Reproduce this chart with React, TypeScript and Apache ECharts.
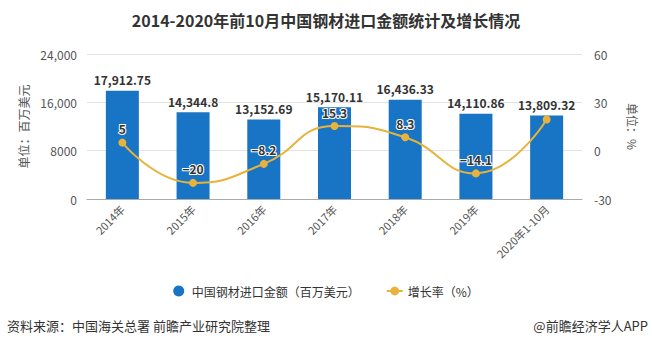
import React, { useEffect, useRef } from "react";
import * as echarts from "echarts";

const categories = ["2014年", "2015年", "2016年", "2017年", "2018年", "2019年", "2020年1-10月"];
const amountValues = [17912.75, 14344.8, 13152.69, 15170.11, 16436.33, 14110.86, 13809.32];
const growthValues = [5, -20, -8.2, 15.3, 8.3, -14.1, 19.4];
const growthLabelShown = [true, true, true, true, true, true, false];
const leftTicks = [0, 8000, 16000, 24000];
const rightTicks = [-30, 0, 30, 60];

const FONT = "'Noto Sans CJK SC', 'Microsoft YaHei', sans-serif";
const BLUE = "#1874c4";
const GOLD = "#e8b23c";

export default function App() {
  const ref = useRef<HTMLDivElement>(null);
  useEffect(() => {
    if (!ref.current) return;
    const chart = echarts.init(ref.current, undefined, { renderer: "svg" });
    const fmtLeft = (v: number) => (v >= 10000 ? v.toLocaleString("en-US") : String(v));
    chart.setOption({
      animation: false,
      textStyle: { fontFamily: FONT },
      title: {
        text: "2014-2020年前10月中国钢材进口金额统计及增长情况",
        left: "center",
        top: 7,
        textStyle: { fontSize: 16, fontWeight: "bold", color: "#333", fontFamily: FONT },
      },
      grid: { left: 87, right: 70, top: 54, height: 145 },
      legend: {
        bottom: 45,
        left: "center",
        itemGap: 26,
        itemWidth: 16,
        itemHeight: 11,
        textStyle: { fontSize: 12, color: "#333", fontFamily: FONT },
        data: [
          { name: "中国钢材进口金额（百万美元）", icon: "circle" },
          { name: "增长率（%）" },
        ],
      },
      xAxis: {
        type: "category",
        data: categories,
        axisLine: { lineStyle: { color: "#aaa" } },
        axisTick: { alignWithLabel: true, lineStyle: { color: "#aaa" } },
        axisLabel: { rotate: 45, fontSize: 11, color: "#555", margin: 8, interval: 0 },
      },
      yAxis: [
        {
          type: "value",
          min: leftTicks[0],
          max: leftTicks[leftTicks.length - 1],
          interval: 8000,
          name: "单位：百万美元",
          nameLocation: "middle",
          nameRotate: 90,
          nameGap: 58,
          nameTextStyle: { fontSize: 12, color: "#555" },
          axisLine: { show: false },
          axisTick: { show: false },
          axisLabel: { formatter: fmtLeft, fontSize: 12, color: "#555", margin: 10 },
          splitLine: { lineStyle: { color: "#e3e3e3" } },
        },
        {
          type: "value",
          min: rightTicks[0],
          max: rightTicks[rightTicks.length - 1],
          interval: 30,
          name: "单位：%",
          nameLocation: "middle",
          nameRotate: -90,
          nameGap: 44,
          nameTextStyle: { fontSize: 12, color: "#555" },
          axisLine: { show: false },
          axisTick: { show: false },
          axisLabel: { fontSize: 12, color: "#555", margin: 12 },
          splitLine: { show: false },
        },
      ],
      series: [
        {
          name: "中国钢材进口金额（百万美元）",
          type: "bar",
          data: amountValues,
          barWidth: 33,
          itemStyle: { color: BLUE },
          label: {
            show: true,
            position: "top",
            fontSize: 12,
            fontWeight: "bold",
            color: "#333",
            formatter: (p: any) => p.value.toLocaleString("en-US", { maximumFractionDigits: 2 }),
          },
        },
        {
          name: "增长率（%）",
          type: "line",
          yAxisIndex: 1,
          smooth: true,
          data: growthValues.map((v, i) => ({
            value: v,
            label: { show: growthLabelShown[i] },
          })),
          symbol: "circle",
          symbolSize: 8,
          lineStyle: { color: GOLD, width: 2 },
          itemStyle: { color: GOLD },
          label: {
            show: true,
            position: "top",
            fontSize: 12,
            fontWeight: "bold",
            color: "#333",
            textBorderColor: "#fff",
            textBorderWidth: 2,
            distance: 4,
            formatter: (p: any) => (p.value < 0 ? "−" + Math.abs(p.value) : String(p.value)),
          },
        },
      ],
      graphic: [
        {
          type: "text",
          left: 7,
          top: 319,
          style: { text: "资料来源：中国海关总署 前瞻产业研究院整理", fill: "#333", font: "13px " + FONT },
        },
        {
          type: "text",
          right: 4,
          top: 319,
          style: { text: "@前瞻经济学人APP", fill: "#333", font: "13px " + FONT },
        },
      ],
    });
    return () => chart.dispose();
  }, []);
  return <div ref={ref} style={{ width: 652, height: 347, position: "absolute", left: 0, top: 0 }} />;
}
